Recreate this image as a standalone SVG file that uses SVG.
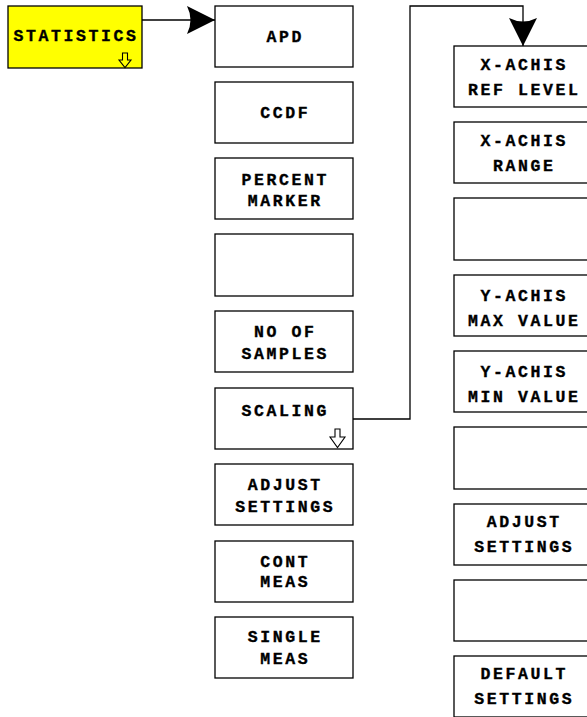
<svg xmlns="http://www.w3.org/2000/svg" width="587" height="717" viewBox="0 0 587 717">
<style>
.box{fill:#fff;stroke:#000;stroke-width:1.3}
.hl{fill:#ffff00;stroke:#000;stroke-width:1.3}
.t{font-family:"Liberation Mono","Courier New",monospace;font-weight:bold;font-size:16.5px;letter-spacing:2.6px;text-anchor:middle;fill:#000;stroke:#000;stroke-width:0.35}
.con{fill:none;stroke:#000;stroke-width:1.3}
.ic{fill:none;stroke:#000;stroke-width:1.1}
</style>
<defs>
<marker id="ah" markerUnits="userSpaceOnUse" markerWidth="28" markerHeight="28" viewBox="0 0 28 28" refX="28" refY="14" orient="auto">
<path d="M0,0 L28,14 L0,28 Q7,14 0,0 Z" fill="#000"/>
</marker>
</defs>
<rect width="587" height="717" fill="#fff"/>
<g id="connectors">
<path class="con" d="M142,20 H215" marker-end="url(#ah)"/>
<path class="con" d="M353,419 H410 V6 H523 V46" marker-end="url(#ah)"/>
</g>
<g id="statistics">
<rect class="hl" x="8" y="6" width="134" height="62"/>
<text class="t" x="76" y="40.5">STATISTICS</text>
<path class="ic" d="M122.5,53 H127.5 V60 H131 L125,67.5 L119,60 H122.5 Z"/>
</g>
<g id="apd"><rect class="box" x="215" y="6" width="138" height="61"/><text class="t" x="285.3" y="41.5">APD</text></g>
<g id="ccdf"><rect class="box" x="215" y="82" width="138" height="61"/><text class="t" x="285.3" y="117.5">CCDF</text></g>
<g id="percent-marker"><rect class="box" x="215" y="158" width="138" height="61"/><text class="t" x="285.3" y="184.5">PERCENT</text><text class="t" x="285.3" y="205.5">MARKER</text></g>
<g id="empty1"><rect class="box" x="215" y="234" width="138" height="62"/></g>
<g id="no-of-samples"><rect class="box" x="215" y="311" width="138" height="61"/><text class="t" x="285.3" y="336.5">NO OF</text><text class="t" x="285.3" y="358.5">SAMPLES</text></g>
<g id="scaling"><rect class="box" x="215" y="388" width="138" height="61"/><text class="t" x="285.3" y="415.5">SCALING</text>
<path class="ic" d="M335,429 H340 V437 H345 L337.5,447.5 L330,437 H335 Z"/></g>
<g id="adjust-settings"><rect class="box" x="215" y="464" width="138" height="61"/><text class="t" x="285.3" y="489.5">ADJUST</text><text class="t" x="285.3" y="511.5">SETTINGS</text></g>
<g id="cont-meas"><rect class="box" x="215" y="541" width="138" height="61"/><text class="t" x="285.3" y="566.5">CONT</text><text class="t" x="285.3" y="586.5">MEAS</text></g>
<g id="single-meas"><rect class="box" x="215" y="617" width="138" height="61"/><text class="t" x="285.3" y="641.5">SINGLE</text><text class="t" x="285.3" y="663.5">MEAS</text></g>
<g id="x-ref-level"><rect class="box" x="454" y="46" width="138" height="61"/><text class="t" x="524.3" y="69.5">X-ACHIS</text><text class="t" x="524.3" y="94.5">REF LEVEL</text></g>
<g id="x-range"><rect class="box" x="454" y="122" width="138" height="61"/><text class="t" x="524.3" y="145.5">X-ACHIS</text><text class="t" x="524.3" y="170.5">RANGE</text></g>
<g id="empty2"><rect class="box" x="454" y="198" width="138" height="62"/></g>
<g id="y-max"><rect class="box" x="454" y="275" width="138" height="61"/><text class="t" x="524.3" y="300.5">Y-ACHIS</text><text class="t" x="524.3" y="325.5">MAX VALUE</text></g>
<g id="y-min"><rect class="box" x="454" y="351" width="138" height="61"/><text class="t" x="524.3" y="376.5">Y-ACHIS</text><text class="t" x="524.3" y="401.5">MIN VALUE</text></g>
<g id="empty3"><rect class="box" x="454" y="427" width="138" height="62"/></g>
<g id="adjust-settings-2"><rect class="box" x="454" y="504" width="138" height="61"/><text class="t" x="524.3" y="526.5">ADJUST</text><text class="t" x="524.3" y="551.5">SETTINGS</text></g>
<g id="empty4"><rect class="box" x="454" y="580" width="138" height="61"/></g>
<g id="default-settings"><rect class="box" x="454" y="656" width="138" height="61"/><text class="t" x="524.3" y="678.5">DEFAULT</text><text class="t" x="524.3" y="703.5">SETTINGS</text></g>
</svg>
